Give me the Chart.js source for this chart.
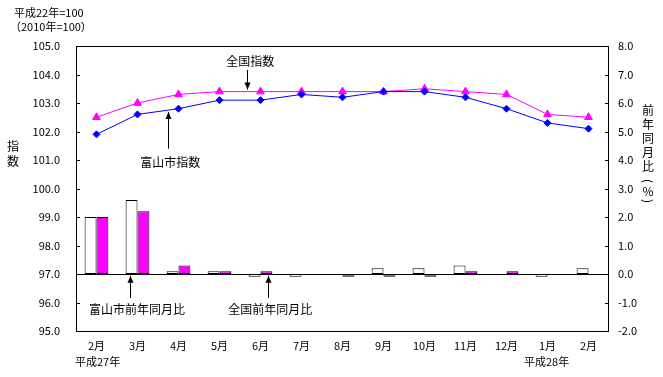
<!DOCTYPE html>
<html>
<head>
<meta charset="utf-8">
<script src="https://cdn.jsdelivr.net/npm/chart.js@4.4.0/dist/chart.umd.min.js"></script>
<style>
  html, body { margin: 0; padding: 0; background: #ffffff; }
  #wrap { width: 663px; height: 377px; position: relative; }
</style>
</head>
<body>
<div id="wrap"><canvas id="grafico"></canvas></div>
<script>
// Datos
const meses = ['2月', '3月', '4月', '5月', '6月', '7月', '8月', '9月', '10月', '11月', '12月', '1月', '2月'];
const toyamaIndice = [101.9, 102.6, 102.8, 103.1, 103.1, 103.3, 103.2, 103.4, 103.4, 103.2, 102.8, 102.3, 102.1];
const zenkokuIndice = [102.5, 103.0, 103.3, 103.4, 103.4, 103.4, 103.4, 103.4, 103.5, 103.4, 103.3, 102.6, 102.5];
const toyamaYoY = [2.0, 2.6, 0.1, 0.1, -0.1, -0.1, 0.0, 0.2, 0.2, 0.3, 0.0, -0.1, 0.2];
const zenkokuYoY = [2.0, 2.2, 0.3, 0.1, 0.1, 0.0, -0.1, -0.1, -0.1, 0.1, 0.1, 0.0, 0.0];

const FUENTE = '"Noto Sans CJK JP", "Noto Sans", sans-serif';

// Anotaciones (posición en índice de categoría y valor del eje izquierdo)
const anotaciones = [
    { texto: '全国指数', x: 3.75, y: 104.47, flechaX: 3.68, desde: 104.16, hasta: 103.47 },
    { texto: '富山市指数', x: 1.8, y: 100.9, flechaX: 1.75, desde: 101.4, hasta: 102.68 },
    { texto: '富山市前年同月比', x: 0.99, y: 95.77, flechaX: 0.82, desde: 96.16, hasta: 96.94 },
    { texto: '全国前年同月比', x: 4.24, y: 95.77, flechaX: 4.18, desde: 96.16, hasta: 96.94 }
];

const decoracion = {
    id: 'decoracion',
    afterDraw(chart) {
        const { ctx, chartArea: a, scales } = chart;
        const x = scales.x, y = scales.y, y1 = scales.y1;
        ctx.save();
        ctx.strokeStyle = '#000';
        ctx.lineWidth = 1;
        // marco
        ctx.strokeRect(a.left + 0.5, a.top + 0.5, a.right - a.left - 1, a.bottom - a.top);
        // línea cero
        const y0 = Math.round(y1.getPixelForValue(0)) + 0.5;
        ctx.beginPath();
        ctx.moveTo(a.left, y0);
        ctx.lineTo(a.right, y0);
        ctx.stroke();
        // marcas hacia dentro
        ctx.beginPath();
        y.ticks.forEach(t => {
            const py = Math.round(y.getPixelForValue(t.value)) + 0.5;
            ctx.moveTo(a.left, py); ctx.lineTo(a.left + 4, py);
        });
        y1.ticks.forEach(t => {
            const py = Math.round(y1.getPixelForValue(t.value)) + 0.5;
            ctx.moveTo(a.right - 4, py); ctx.lineTo(a.right, py);
        });
        ctx.stroke();

        // anotaciones con flechas
        ctx.fillStyle = '#000';
        ctx.font = '12px ' + FUENTE;
        ctx.textAlign = 'center';
        ctx.textBaseline = 'middle';
        anotaciones.forEach(an => {
            ctx.fillText(an.texto, x.getPixelForValue(an.x), y.getPixelForValue(an.y));
            const ax = Math.round(x.getPixelForValue(an.flechaX)) + 0.5;
            const p1 = y.getPixelForValue(an.desde);
            const p2 = y.getPixelForValue(an.hasta);
            ctx.beginPath();
            ctx.moveTo(ax, p1);
            ctx.lineTo(ax, p2);
            ctx.stroke();
            const dir = p2 > p1 ? 1 : -1;
            ctx.beginPath();
            ctx.moveTo(ax, p2);
            ctx.lineTo(ax - 3, p2 - dir * 7);
            ctx.lineTo(ax + 3, p2 - dir * 7);
            ctx.closePath();
            ctx.fill();
        });

        // textos fijos
        ctx.font = '11px ' + FUENTE;
        ctx.textAlign = 'left';
        ctx.fillText('平成22年=100', 14, 13);
        ctx.fillText('（2010年=100）', 10, 27);
        ctx.fillText('平成27年', 75, 362);
        ctx.fillText('平成28年', 524, 362);

        // títulos verticales de ejes
        ctx.font = '12px ' + FUENTE;
        ctx.textAlign = 'center';
        ['指', '数'].forEach((c, i) => ctx.fillText(c, 13, 146 + i * 15));
        ['前', '年', '同', '月', '比'].forEach((c, i) => ctx.fillText(c, 648, 110 + i * 14));
        ['(', '%', ')'].forEach((c, i) => {
            ctx.save();
            ctx.translate(648, 181 + i * 10);
            if (c !== '%') ctx.rotate(Math.PI / 2);
            ctx.fillText(c, 0, 0);
            ctx.restore();
        });
        ctx.restore();
    }
};

new Chart(document.getElementById('grafico'), {
    data: {
        labels: meses,
        datasets: [
            {
                type: 'line', label: '富山市指数', data: toyamaIndice, yAxisID: 'y', order: 0,
                borderColor: '#0000FF', backgroundColor: '#0000FF', borderWidth: 1,
                pointStyle: 'rectRot', pointRadius: 3.5, pointBorderWidth: 1
            },
            {
                type: 'line', label: '全国指数', data: zenkokuIndice, yAxisID: 'y', order: 0,
                borderColor: '#FF00FF', backgroundColor: '#FF00FF', borderWidth: 1,
                pointStyle: 'triangle', pointRadius: 4.5, pointBorderWidth: 1
            },
            {
                type: 'bar', label: '富山市前年同月比', data: toyamaYoY, yAxisID: 'y1', order: 1,
                backgroundColor: '#FFFFFF', borderColor: '#000000', borderWidth: 1, borderSkipped: false,
                categoryPercentage: 0.58, barPercentage: 1
            },
            {
                type: 'bar', label: '全国前年同月比', data: zenkokuYoY, yAxisID: 'y1', order: 1,
                backgroundColor: '#FF00FF', borderColor: '#000000', borderWidth: 1, borderSkipped: false,
                categoryPercentage: 0.58, barPercentage: 1
            }
        ]
    },
    options: {
        responsive: true,
        maintainAspectRatio: false,
        animation: false,
        layout: { padding: { top: 46, left: 0, right: 0, bottom: 0 } },
        plugins: {
            legend: { display: false },
            tooltip: { enabled: false }
        },
        scales: {
            x: {
                offset: true,
                grid: { display: false, drawTicks: false },
                border: { display: false },
                ticks: { color: '#000', font: { size: 11, family: FUENTE }, padding: 8, maxRotation: 0, autoSkip: false },
                afterFit: (s) => { s.height = 46; }
            },
            y: {
                position: 'left', min: 95, max: 105,
                grid: { display: false, drawTicks: false },
                border: { display: false },
                ticks: { stepSize: 1, color: '#000', font: { size: 11, family: FUENTE }, padding: 16,
                         callback: (v) => v.toFixed(1) },
                afterFit: (s) => { s.width = 76; }
            },
            y1: {
                position: 'right', min: -2, max: 8,
                grid: { display: false, drawTicks: false },
                border: { display: false },
                ticks: { stepSize: 1, color: '#000', font: { size: 11, family: FUENTE }, padding: 9,
                         callback: (v) => v.toFixed(1) },
                afterFit: (s) => { s.width = 54; }
            }
        }
    },
    plugins: [decoracion]
});
</script>
</body>
</html>
